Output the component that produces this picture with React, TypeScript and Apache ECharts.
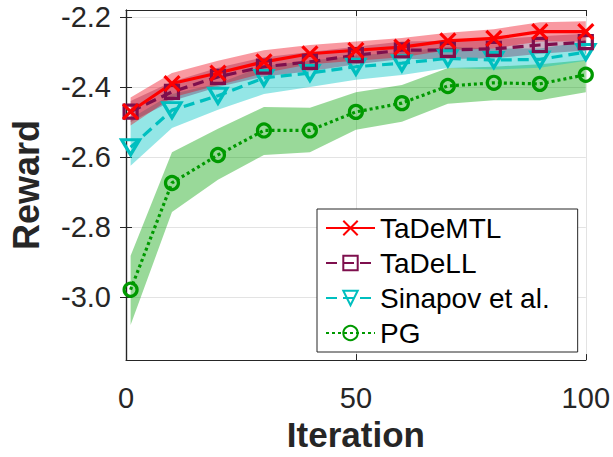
import React, { useEffect, useRef } from "react";
import * as echarts from "echarts";

const iterations = [1, 10, 20, 30, 40, 50, 60, 70, 80, 90, 100];

const tademtl = [-2.47, -2.39, -2.36, -2.328, -2.305, -2.295, -2.286, -2.268, -2.261, -2.242, -2.242];
const tadell = [-2.47, -2.414, -2.371, -2.342, -2.328, -2.309, -2.295, -2.294, -2.291, -2.28, -2.272];
const sinapov = [-2.572, -2.466, -2.425, -2.374, -2.36, -2.342, -2.332, -2.318, -2.323, -2.321, -2.3];
const pg = [-2.979, -2.674, -2.594, -2.524, -2.524, -2.471, -2.446, -2.397, -2.388, -2.391, -2.365];

const tademtlUpper = [-2.43, -2.36, -2.325, -2.295, -2.28, -2.27, -2.26, -2.245, -2.235, -2.215, -2.212];
const tademtlLower = [-2.51, -2.43, -2.395, -2.36, -2.335, -2.325, -2.315, -2.295, -2.29, -2.27, -2.27];
const tadellUpper = [-2.44, -2.385, -2.345, -2.315, -2.3, -2.285, -2.27, -2.268, -2.264, -2.255, -2.248];
const tadellLower = [-2.5, -2.44, -2.4, -2.37, -2.355, -2.335, -2.32, -2.32, -2.318, -2.305, -2.296];
const sinapovUpper = [-2.49, -2.42, -2.39, -2.34, -2.325, -2.31, -2.3, -2.285, -2.29, -2.29, -2.27];
const sinapovLower = [-2.625, -2.517, -2.465, -2.42, -2.4, -2.379, -2.366, -2.346, -2.35, -2.345, -2.325];
const pgUpper = [-2.882, -2.586, -2.519, -2.457, -2.459, -2.415, -2.394, -2.346, -2.342, -2.335, -2.323];
const pgLower = [-3.08, -2.757, -2.665, -2.594, -2.586, -2.522, -2.499, -2.448, -2.438, -2.438, -2.415];

const yTicks = [-3.0, -2.8, -2.6, -2.4, -2.2];
const seriesNames = ["TaDeMTL", "TaDeLL", "Sinapov et al.", "PG"];

const FONT = "Liberation Sans, Arial, Helvetica, sans-serif";
const AX = "#262626";

function bandSeries(name: string, upper: number[], lower: number[], fill: string) {
  return {
    type: "custom",
    name,
    silent: true,
    clip: true,
    z: 1,
    data: iterations.map((x, i) => [x, upper[i], lower[i]]),
    renderItem: (params: any, api: any) => {
      if (params.dataIndex !== 0) return null;
      const top = iterations.map((x, i) => api.coord([x, upper[i]]));
      const bot = iterations.map((x, i) => api.coord([x, lower[i]])).reverse();
      return {
        type: "polygon",
        shape: { points: top.concat(bot) },
        style: { fill, stroke: "none" },
      };
    },
  };
}

function lineSeries(name: string, vals: number[], color: string, dash: any, symbol: string, size: any) {
  return {
    type: "line",
    name,
    z: 3,
    data: iterations.map((x, i) => [x, vals[i]]),
    symbol,
    symbolSize: size,
    showAllSymbol: true,
    lineStyle: { color, width: 3.2, type: dash },
    itemStyle: { color: "rgba(0,0,0,0)", borderColor: color, borderWidth: 3.2 },
    emphasis: { disabled: true },
  };
}

export default function App() {
  const ref = useRef<HTMLDivElement>(null);
  useEffect(() => {
    if (!ref.current) return;
    const chart = echarts.init(ref.current, null, { renderer: "svg" });
    const yAxisBase = {
      type: "value",
      min: -3.18,
      max: -2.18,
      axisLine: { show: true, lineStyle: { color: AX, width: 1.2 } },
      axisTick: { show: true, inside: true, length: 6, customValues: yTicks, lineStyle: { color: AX } },
      splitLine: { show: false },
    };
    const xAxisBase = {
      type: "value",
      min: 0,
      max: 100,
      interval: 50,
      axisLine: { show: true, onZero: false, lineStyle: { color: AX, width: 1.2 } },
      axisTick: { show: true, inside: true, length: 6, lineStyle: { color: AX } },
    };
    chart.setOption({
      animation: false,
      backgroundColor: "#ffffff",
      grid: { left: 123, right: 24, top: 10, bottom: 86, containLabel: false },
      xAxis: [
        {
          ...xAxisBase,
          position: "bottom",
          name: "Iteration",
          nameLocation: "middle",
          nameGap: 56,
          nameTextStyle: { fontFamily: FONT, fontSize: 35, fontWeight: "bold", color: AX },
          axisLabel: { fontFamily: FONT, fontSize: 29, color: AX, margin: 23 },
          splitLine: { show: true, lineStyle: { color: "#e3e3e3", width: 1 } },
        },
        {
          ...xAxisBase,
          position: "top",
          axisLabel: { show: false },
          splitLine: { show: false },
        },
      ],
      yAxis: [
        {
          ...yAxisBase,
          position: "left",
          name: "Reward",
          nameLocation: "middle",
          nameRotate: 90,
          nameGap: 82,
          nameTextStyle: { fontFamily: FONT, fontSize: 36, fontWeight: "bold", color: AX },
          axisLabel: {
            fontFamily: FONT,
            fontSize: 29,
            color: AX,
            margin: 15,
            customValues: yTicks,
            formatter: (v: number) => v.toFixed(1),
          },
          splitLine: { show: true, lineStyle: { color: "#e3e3e3", width: 1 } },
        },
        {
          ...yAxisBase,
          position: "right",
          axisLabel: { show: false },
        },
      ],
      legend: {
        show: true,
        data: seriesNames,
        orient: "vertical",
        left: 317,
        top: 209,
        itemWidth: 49,
        itemHeight: 18,
        itemGap: 5,
        padding: [4, 28, 4, 8],
        borderColor: AX,
        borderWidth: 1,
        backgroundColor: "#ffffff",
        textStyle: { fontFamily: FONT, fontSize: 28, color: "#000", lineHeight: 30 },
        selectedMode: false,
      },
      series: [
        bandSeries("pgBand", pgUpper, pgLower, "rgba(0,160,0,0.4)"),
        bandSeries("sinapovBand", sinapovUpper, sinapovLower, "rgba(0,195,195,0.42)"),
        bandSeries("tadellBand", tadellUpper, tadellLower, "rgba(110,30,80,0.35)"),
        bandSeries("tademtlBand", tademtlUpper, tademtlLower, "rgba(240,0,20,0.4)"),
        lineSeries("PG", pg, "#009900", [3, 3], "circle", 13),
        lineSeries("Sinapov et al.", sinapov, "#00BFBF", [11, 6], "path://M0,0L20,0L10,17Z", [18, 15]),
        lineSeries("TaDeLL", tadell, "#7E0F4D", [11, 6], "rect", 13),
        lineSeries("TaDeMTL", tademtl, "#FF0000", "solid", "path://M0,0L10,10M0,10L10,0", 15),
      ],
    });
    return () => chart.dispose();
  }, []);
  return <div ref={ref} style={{ width: 613, height: 457, position: "absolute", left: 0, top: 0 }} />;
}
